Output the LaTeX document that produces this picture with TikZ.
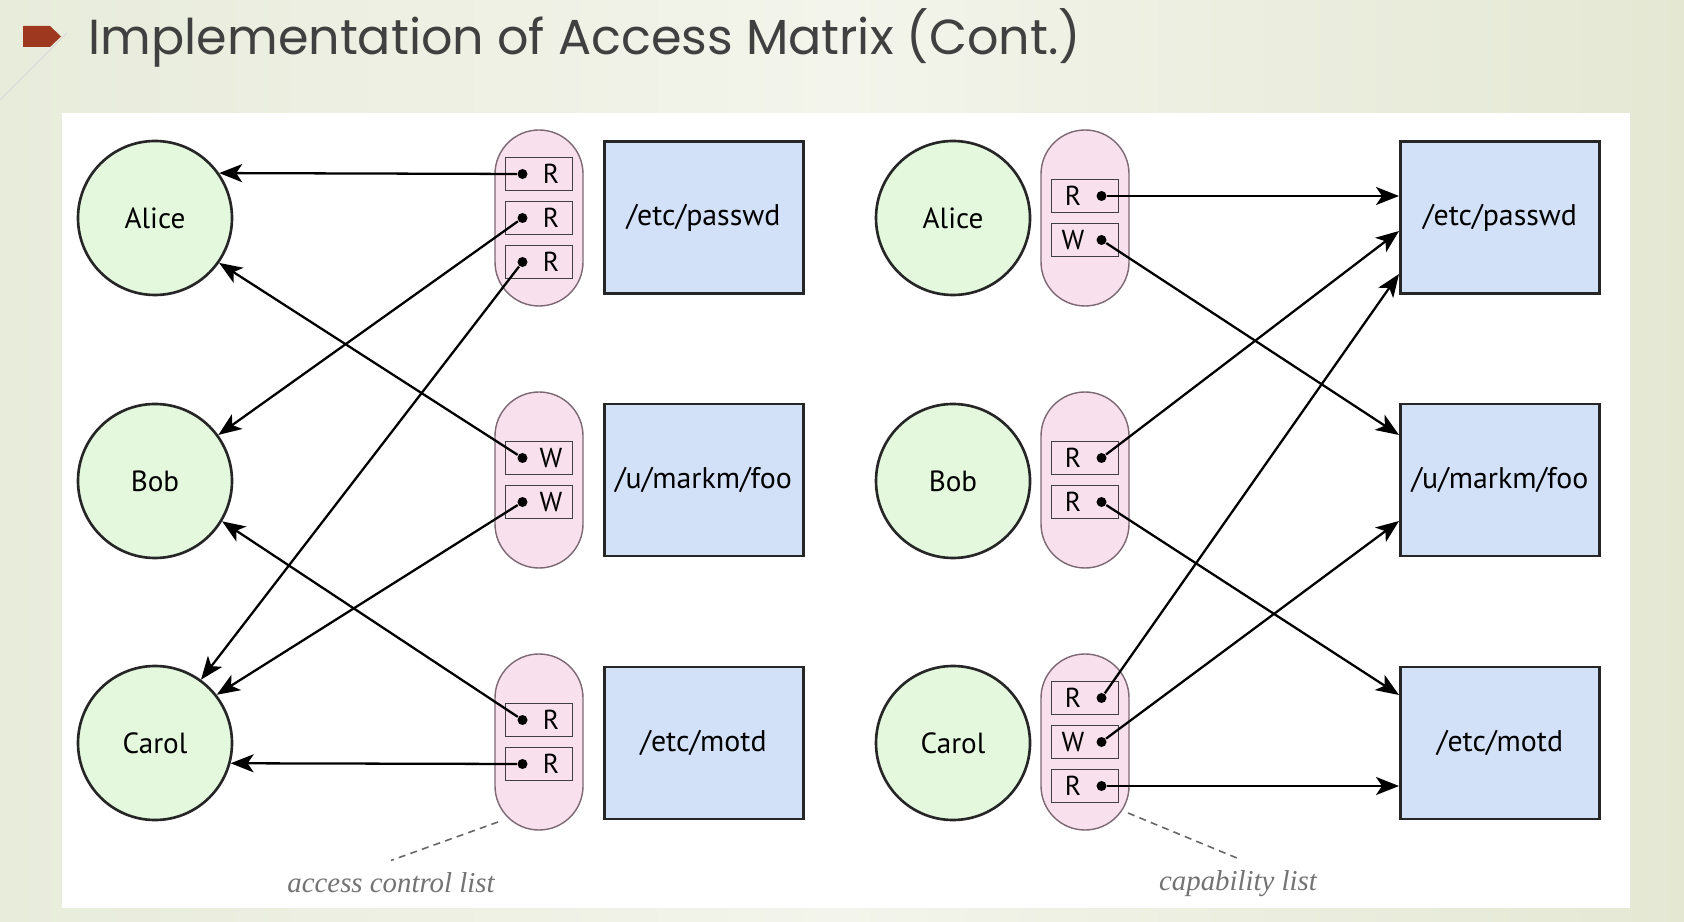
\documentclass[tikz,border=0pt]{standalone}
\usepackage{fontspec}
\setmainfont{PT Sans}
\newfontfamily\titrefont{Poppins}
\newfontfamily\notefont{Liberation Serif}
\usetikzlibrary{arrows.meta}

\definecolor{vertclair}{RGB}{228,248,222}
\definecolor{roseclair}{RGB}{248,224,236}
\definecolor{rosebord}{RGB}{125,105,115}
\definecolor{bleuclair}{RGB}{210,224,248}
\definecolor{fondg}{RGB}{232,236,219}
\definecolor{fondm}{RGB}{243,244,235}
\definecolor{fondd}{RGB}{228,232,211}
\definecolor{rougepuce}{RGB}{158,56,30}
\definecolor{gristitre}{RGB}{64,64,64}

% Entrée d'une liste : point à gauche (ACL) ou à droite (capacité)
\newcommand{\aclentry}[3]{%
  \node[droit] (#1) at (#2) {};
  \node[lettre] (#1l) at ([xshift=0.12cm]#1.center) {#3};
  \node[pastille] (#1d) at ([xshift=-0.165cm]#1.center) {};
}
\newcommand{\capentry}[3]{%
  \node[droit] (#1) at (#2) {};
  \node[lettre] (#1l) at ([xshift=-0.12cm]#1.center) {#3};
  \node[pastille] (#1d) at ([xshift=0.165cm]#1.center) {};
}

\begin{document}
\begin{tikzpicture}[
    personne/.style={circle, draw=black!85, line width=0.75pt, fill=vertclair, minimum size=1.54cm, inner sep=0pt, font=\fontsize{8.3}{10}\selectfont},
    fichier/.style={rectangle, draw=black!85, line width=0.85pt, fill=bleuclair, minimum width=1.99cm, minimum height=1.52cm, inner sep=0pt, font=\fontsize{8.5}{10}\selectfont},
    liste/.style={rectangle, rounded corners=0.44cm, draw=rosebord, line width=0.4pt, fill=roseclair, minimum width=0.88cm, minimum height=1.76cm},
    droit/.style={rectangle, draw=black!75, line width=0.45pt, minimum width=0.67cm, minimum height=0.33cm, inner sep=0pt},
    lettre/.style={inner sep=0pt, font=\fontsize{7.8}{9}\selectfont},
    pastille/.style={circle, fill=black, inner sep=0pt, minimum size=0.1cm},
    fleche/.style={line width=0.65pt, -{Stealth[length=0.23cm, width=0.18cm, inset=0.06cm]}},
    renvoi/.style={black!60, dash pattern=on 2pt off 1.5pt, line width=0.45pt},
    legende/.style={text=black!55, font=\notefont\itshape\fontsize{8.2}{10}\selectfont}
]

% Fond de la diapositive
\useasboundingbox (0,0) rectangle (16.84,-9.22);
\shade[left color=fondg, right color=fondd, middle color=fondm] (0,0) rectangle (16.84,-9.22);
\draw[black!15, line width=0.3pt] (0.67,-0.33) -- (0,-1.0);
\fill[rougepuce] (0.23,-0.26) -- (0.50,-0.26) -- (0.61,-0.365) -- (0.50,-0.47) -- (0.23,-0.47) -- cycle;
\node[anchor=base west, inner sep=0pt, text=gristitre, font=\titrefont\fontsize{14}{16}\selectfont] (titre) at (0.88,-0.55) {Implementation of Access Matrix (Cont.)};
\fill[white] (0.62,-1.13) rectangle (16.30,-9.08);

% Liste de contrôle d'accès (à gauche)
\node[personne] (alice1) at (1.55,-2.18) {Alice};
\node[personne] (bob1) at (1.55,-4.81) {Bob};
\node[personne] (carol1) at (1.55,-7.43) {Carol};

\node[liste] (acl1) at (5.39,-2.18) {};
\node[liste] (acl2) at (5.39,-4.80) {};
\node[liste] (acl3) at (5.39,-7.42) {};

\node[fichier] (passwd1) at (7.035,-2.18) {/etc/passwd};
\node[fichier] (foo1) at (7.035,-4.80) {/u/markm/foo};
\node[fichier] (motd1) at (7.035,-7.43) {/etc/motd};

\aclentry{a1r1}{[yshift=0.44cm]acl1.center}{R}
\aclentry{a1r2}{acl1.center}{R}
\aclentry{a1r3}{[yshift=-0.44cm]acl1.center}{R}
\aclentry{a2w1}{[yshift=0.22cm]acl2.center}{W}
\aclentry{a2w2}{[yshift=-0.22cm]acl2.center}{W}
\aclentry{a3r1}{[yshift=0.22cm]acl3.center}{R}
\aclentry{a3r2}{[yshift=-0.22cm]acl3.center}{R}

\draw[fleche] (a1r1d) -- (alice1.35);
\draw[fleche] (a1r2d) -- (bob1.36);
\draw[fleche] (a1r3d) -- (carol1.54);
\draw[fleche] (a2w1d) -- (alice1.-35);
\draw[fleche] (a2w2d) -- (carol1.38);
\draw[fleche] (a3r1d) -- (bob1.-31);
\draw[fleche] (a3r2d) -- (carol1.-15);

\coordinate (aclpt) at (4.98,-8.22);
\node[legende] (acllabel) at (3.91,-8.83) {access control list};
\draw[renvoi] (aclpt) -- (acllabel.north);

% Liste de capacités (à droite)
\node[personne] (alice2) at (9.53,-2.18) {Alice};
\node[personne] (bob2) at (9.53,-4.81) {Bob};
\node[personne] (carol2) at (9.53,-7.43) {Carol};

\node[liste] (cap1) at (10.85,-2.18) {};
\node[liste] (cap2) at (10.85,-4.80) {};
\node[liste] (cap3) at (10.85,-7.42) {};

\node[fichier] (passwd2) at (15.00,-2.18) {/etc/passwd};
\node[fichier] (foo2) at (15.00,-4.80) {/u/markm/foo};
\node[fichier] (motd2) at (15.00,-7.43) {/etc/motd};

\capentry{c1r}{[yshift=0.22cm]cap1.center}{R}
\capentry{c1w}{[yshift=-0.22cm]cap1.center}{W}
\capentry{c2r1}{[yshift=0.22cm]cap2.center}{R}
\capentry{c2r2}{[yshift=-0.22cm]cap2.center}{R}
\capentry{c3r1}{[yshift=0.44cm]cap3.center}{R}
\capentry{c3w}{cap3.center}{W}
\capentry{c3r2}{[yshift=-0.44cm]cap3.center}{R}

\draw[fleche] (c1rd) -- (c1rd -| passwd2.west);
\draw[fleche] (c1wd) -- ([yshift=0.45cm]foo2.west);
\draw[fleche] (c2r1d) -- ([yshift=-0.13cm]passwd2.west);
\draw[fleche] (c2r2d) -- ([yshift=0.48cm]motd2.west);
\draw[fleche] (c3r1d) -- ([yshift=-0.56cm]passwd2.west);
\draw[fleche] (c3wd) -- ([yshift=-0.41cm]foo2.west);
\draw[fleche] (c3r2d) -- (c3r2d -| motd2.west);

\coordinate (cappt) at (11.28,-8.13);
\node[legende] (caplabel) at (12.38,-8.84) {capability list};
\draw[renvoi] (cappt) -- (caplabel.north);

\end{tikzpicture}
\end{document}
